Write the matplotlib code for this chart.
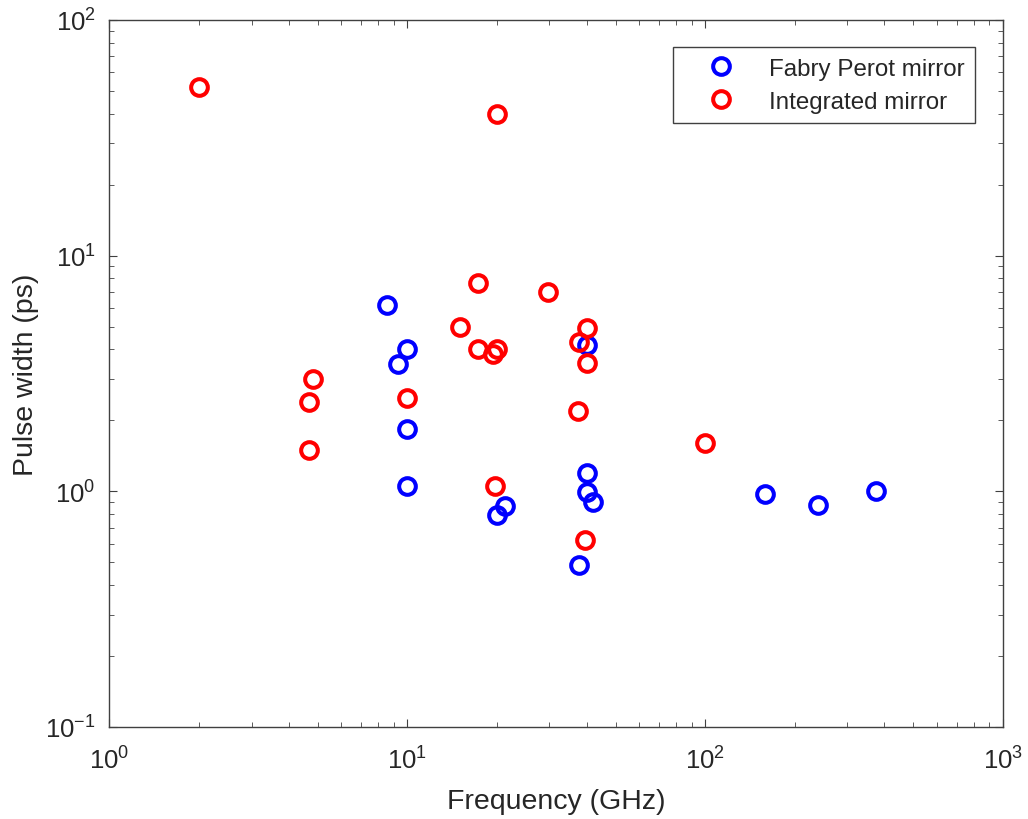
import matplotlib
matplotlib.use("Agg")
import matplotlib.pyplot as plt

# === Data ===
fp_freq = [8.55, 10, 9.3, 10, 10, 20, 21.3, 40, 40, 40, 42, 37.7, 159, 239, 375]
fp_width = [6.18, 4.0, 3.47, 1.84, 1.05, 0.794, 0.867, 4.18, 1.2, 0.99, 0.90, 0.488, 0.975, 0.875, 1.0]

int_freq = [2.0, 20, 17.3, 29.7, 15, 17.3, 20, 19.4, 40, 37.7, 40, 37.4, 4.83, 4.68, 4.68, 10, 19.7, 39.5, 100]
int_width = [52, 40, 7.66, 7.0, 5.0, 4.02, 4.0, 3.83, 4.93, 4.3, 3.5, 2.19, 3.0, 2.39, 1.5, 2.49, 1.05, 0.62, 1.6]

# === Style ===
plt.rcParams["font.family"] = ["Liberation Sans", "DejaVu Sans"]
plt.rcParams["mathtext.fontset"] = "custom"
plt.rcParams["mathtext.rm"] = "Liberation Sans"
plt.rcParams["mathtext.it"] = "Liberation Sans"
plt.rcParams["mathtext.bf"] = "Liberation Sans"
plt.rcParams["axes.unicode_minus"] = False

axis_col = "#404040"
text_col = "#262626"

fig = plt.figure(figsize=(10.28, 8.2), dpi=100)
ax = fig.add_axes([0.1065, 0.1122, 0.8692, 0.8622])

ax.plot(fp_freq, fp_width, linestyle="none", marker="o", markersize=12,
        markerfacecolor="none", markeredgecolor="#0000ff", markeredgewidth=2.9,
        label="Fabry Perot mirror")
ax.plot(int_freq, int_width, linestyle="none", marker="o", markersize=12,
        markerfacecolor="none", markeredgecolor="#ff0000", markeredgewidth=2.9,
        label="Integrated mirror")

ax.set_xscale("log")
ax.set_yscale("log")
ax.set_xlim(1, 1000)
ax.set_ylim(0.1, 100)

ax.set_xlabel("Frequency (GHz)", fontsize=20.5, color=text_col, labelpad=10)
ax.set_ylabel("Pulse width (ps)", fontsize=20.5, color=text_col, labelpad=4)

for s in ax.spines.values():
    s.set_color(axis_col)
    s.set_linewidth(1.0)
ax.tick_params(which="both", direction="in", top=True, right=True,
               color=axis_col, labelcolor=text_col)
ax.tick_params(which="major", length=6, labelsize=18.5, pad=10)
ax.tick_params(axis="x", which="major", pad=14)
ax.tick_params(which="minor", length=3.5)

leg = ax.legend(loc="upper right", bbox_to_anchor=(0.9687, 0.962), fontsize=17.4,
                fancybox=False, framealpha=1, edgecolor=axis_col,
                borderpad=0.45, borderaxespad=0, handlelength=3.1,
                handletextpad=0.4, labelspacing=0.45)
leg.get_frame().set_linewidth(1.0)
for t in leg.get_texts():
    t.set_color(text_col)

plt.savefig("out.png", dpi=100)
